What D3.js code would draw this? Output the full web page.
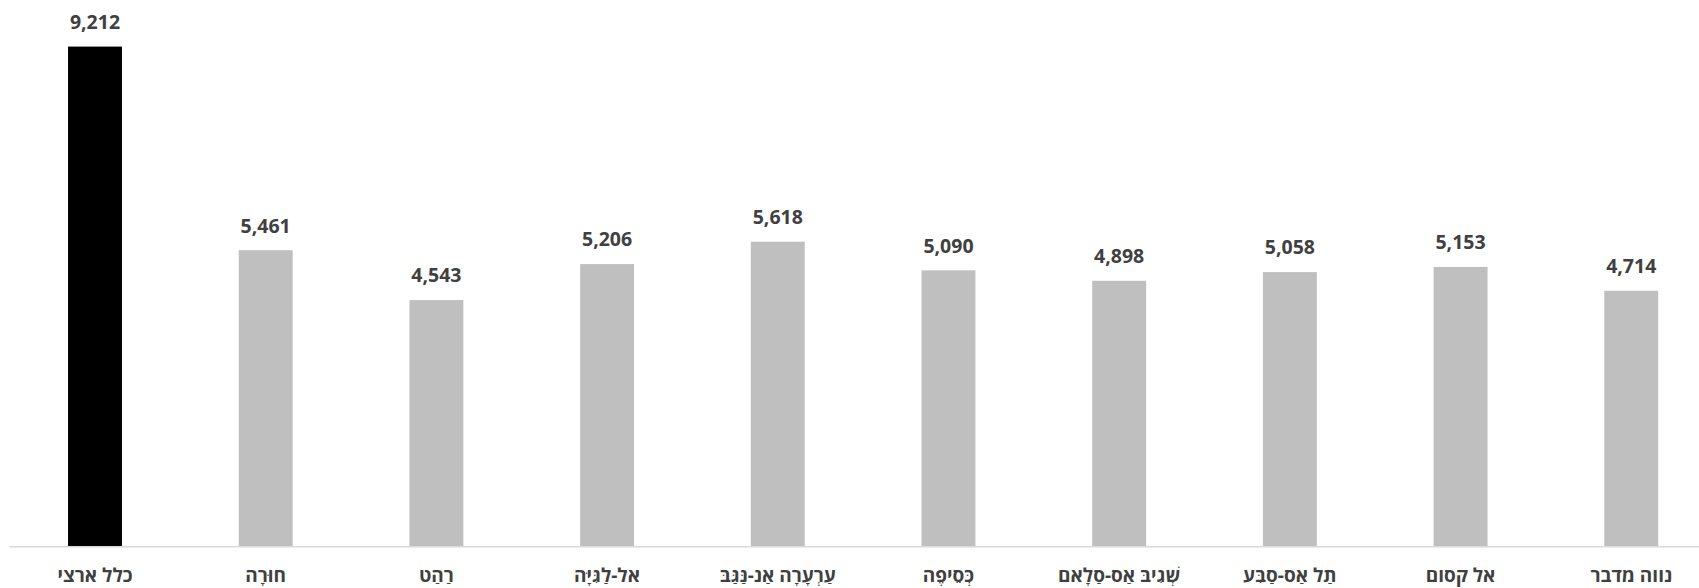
<!DOCTYPE html>
<html><head><meta charset="utf-8">
<script src="https://cdn.jsdelivr.net/npm/d3@7"></script>
<style>body{margin:0;background:#fff;} svg{display:block;}</style>
</head><body>
<svg id="chart" width="1699" height="588"></svg>
<script>
const categories = ["כלל ארצי","חוּרָה","רַהַט","אל-לַגִּיָּה","עַרְעָרָה אַנ-נַּגַּבּ","כְּסֵיפֶה","שְׁגִיבּ אַס-סַלָאם","תַל אַס-סַבִּע","אל קסום","נווה מדבר"];
const values = [9212,5461,4543,5206,5618,5090,4898,5058,5153,4714];
const colors = ["#000000","#bfbfbf","#bfbfbf","#bfbfbf","#bfbfbf","#bfbfbf","#bfbfbf","#bfbfbf","#bfbfbf","#bfbfbf"];
const yTicks = [0,10000];

const svg = d3.select("#chart");
const x = d3.scaleBand().domain(categories).range([9.65, 1716.6]).paddingInner(0.684).paddingOuter(0.342);
const y = d3.scaleLinear().domain([yTicks[0], yTicks[1]]).range([546.7, 3.8]);

svg.selectAll("rect.bar").data(values).join("rect")
  .attr("class","bar")
  .attr("x",(d,i)=>x(categories[i]))
  .attr("width",x.bandwidth())
  .attr("y",d=>y(d))
  .attr("height",d=>y(0)-y(d))
  .attr("fill",(d,i)=>colors[i]);

svg.selectAll("text.val").data(values).join("text")
  .attr("class","val")
  .attr("x",(d,i)=>x(categories[i])+x.bandwidth()/2)
  .attr("y",d=>y(d)-17.7)
  .attr("text-anchor","middle")
  .attr("font-family","'Open Sans', sans-serif")
  .attr("font-weight","bold")
  .attr("font-size","19.5px")
  .attr("fill","#404040")
  .text(d=>d3.format(",")(d));

const axis = d3.axisBottom(x).tickSize(0).tickPadding(0);
const g = svg.append("g").attr("transform",`translate(0,${y(0)})`).call(axis);
g.select(".domain").attr("stroke","#d9d9d9").attr("stroke-width",1.5).attr("d",`M9.65,0H1699`);
g.selectAll(".tick text")
  .attr("y",35).attr("dy",null)
  .attr("font-family","'Open Sans', sans-serif")
  .attr("font-weight","bold")
  .attr("font-size","19px")
  .attr("fill","#404040")
  .attr("direction","rtl")
  .attr("text-anchor","middle");
</script>
</body></html>
